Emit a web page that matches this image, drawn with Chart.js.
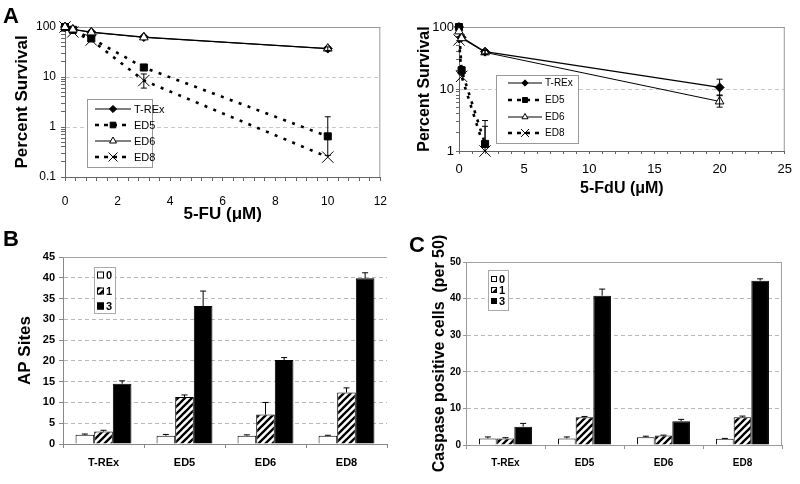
<!DOCTYPE html>
<html><head><meta charset="utf-8">
<script src="https://cdn.jsdelivr.net/npm/chart.js@4.4.1/dist/chart.umd.min.js"></script>
<style>
html,body{margin:0;padding:0;background:#fff;width:800px;height:484px;overflow:hidden;}
.box{position:absolute;}
.lbl{position:absolute;font:bold 22px 'Liberation Sans',Arial,sans-serif;color:#000;line-height:1;}
</style></head><body>
<div class="box" style="left:0;top:0"><canvas id="cA1" width="400" height="235"></canvas></div>
<div class="box" style="left:400px;top:0"><canvas id="cA2" width="400" height="205"></canvas></div>
<div class="box" style="left:0;top:240px"><canvas id="cB" width="400" height="244"></canvas></div>
<div class="box" style="left:400px;top:232px"><canvas id="cC" width="400" height="252"></canvas></div>
<div class="lbl" style="left:3px;top:5px">A</div>
<div class="lbl" style="left:3px;top:228px">B</div>
<div class="lbl" style="left:409px;top:234px">C</div>
<script>
// ---------- Panel A (left): 5-FU survival ----------
const fuDoses   = [0, 0.3, 1, 3, 10];
const fuTREx    = [100, 90, 79, 63, 37];
const fuED5     = [100, 88, 59, 15.5, 0.65];
const fuED6     = [100, 89, 78, 62, 37];
const fuED8     = [100, 80, 55, 8.5, 0.25];
const fuED5ErrHi = [null, null, null, 17.5, 1.6];
const fuED5ErrLo = [null, null, null, 13.8, 0.27];
const fuED6ErrHi = [null, null, null, null, 40];
const fuED6ErrLo = [null, null, null, null, 34];
const fuED8ErrHi = [null, null, null, 11.5, null];
const fuED8ErrLo = [null, null, null, 6.0, null];
const fuAxisLabels = [0, 2, 4, 6, 8, 10, 12];
const survMajors1  = [0.1, 1, 10, 100];

// ---------- Panel A (right): 5-FdU survival ----------
const fduDoses  = [0, 0.2, 2, 20];
const fduTREx   = [100, 68, 40, 10.6];
const fduED6    = [85, 66, 39, 6.3];
const fduDosesShort = [0, 0.2, 2];
const fduED5    = [100, 20, 1.3];
const fduED8    = [62, 16, 1.0];
const fduTRExErrHi = [null, null, 43, 14.4];
const fduTRExErrLo = [null, null, 37, 7.8];
const fduED6ErrHi  = [null, null, 42, 8.0];
const fduED6ErrLo  = [null, null, 36, 5.1];
const fduED5ErrHi  = [null, 23, 3.1];
const fduED5ErrLo  = [null, 17, null];
const fduED8ErrHi  = [null, 18, 2.5];
const fduED8ErrLo  = [null, null, null];
const fduAxisLabels = [0, 5, 10, 15, 20, 25];
const survMajors2   = [1, 10, 100];

// ---------- Panels B and C ----------
const cellLines = ['T-REx', 'ED5', 'ED6', 'ED8'];
const seriesNames = ['0', '1', '3'];
const apSites0 = [2.2, 2.0, 2.0, 2.0];
const apSites1 = [3.0, 11.3, 7.1, 12.4];
const apSites3 = [14.5, 33.2, 20.2, 39.9];
const apErr0 = [2.4, 2.3, 2.2, 2.1];
const apErr1 = [3.3, 11.8, 10.0, 13.5];
const apErr3 = [15.2, 36.8, 20.8, 41.2];
const casp0 = [1.8, 1.8, 2.1, 1.7];
const casp1 = [1.8, 7.6, 2.6, 7.6];
const casp3 = [5.0, 40.8, 6.5, 44.9];
const caspErr0 = [2.2, 2.2, 2.4, 1.8];
const caspErr1 = [2.0, 7.8, 2.7, 7.9];
const caspErr3 = [5.9, 42.6, 7.0, 45.4];

const F  = "'Liberation Sans', Arial, Helvetica, sans-serif";
const FN = "'Liberation Sans Narrow', 'Arial Narrow', 'Liberation Sans', Arial, sans-serif";
Chart.defaults.font.family = F;
Chart.defaults.color = '#000';
Chart.defaults.animation = false;
Chart.defaults.events = [];
Chart.defaults.plugins.legend.display = false;
Chart.defaults.plugins.tooltip.enabled = false;

// axis tick helpers (decoration only)
function linTicks(max, step){ const t=[]; const n=Math.round(max/step); for(let k=0;k<=n;k++) t.push(Math.round(k*step*1000)/1000); return t; }
function logTicks(majors){ const t=[]; for(let i=0;i<majors.length-1;i++){ for(let m=1;m<=9;m++) t.push(Math.round(majors[i]*m*1000)/1000); } t.push(majors[majors.length-1]); return t; }

function hatchPattern(){
  const s=7, c=document.createElement('canvas'); c.width=s; c.height=s;
  const g=c.getContext('2d'); g.fillStyle='#fff'; g.fillRect(0,0,s,s);
  g.strokeStyle='#000'; g.lineWidth=2.3; g.lineCap='square'; g.beginPath();
  g.moveTo(0,s); g.lineTo(s,0);
  g.moveTo(-1,1); g.lineTo(1,-1);
  g.moveTo(s-1,s+1); g.lineTo(s+1,s-1);
  g.stroke();
  return g.createPattern(c,'repeat');
}
const HATCH = hatchPattern();

const framePlugin = {
  id:'frame',
  beforeDatasetsDraw(chart, args, o){
    if(!o || !o.color) return;
    const {ctx, chartArea:a} = chart;
    ctx.save(); ctx.strokeStyle=o.color; ctx.lineWidth=1; ctx.beginPath();
    if(o.top){ ctx.moveTo(a.left, a.top+0.5); ctx.lineTo(a.right, a.top+0.5); }
    if(o.right){ ctx.moveTo(a.right-0.5, a.top); ctx.lineTo(a.right-0.5, a.bottom); }
    ctx.stroke(); ctx.restore();
  }
};

const errorBarPlugin = {
  id:'errorBars',
  afterDatasetsDraw(chart){
    const ctx=chart.ctx, ys=chart.scales.y;
    chart.data.datasets.forEach((ds,di)=>{
      if(!ds.errHi) return;
      const meta=chart.getDatasetMeta(di);
      meta.data.forEach((el,i)=>{
        const hi=ds.errHi[i], lo=ds.errLo?ds.errLo[i]:null;
        if(hi==null && lo==null) return;
        const x=el.x, cw=ds.capHalf||3;
        const yTop = hi!=null ? ys.getPixelForValue(hi) : el.y;
        const yBot = lo!=null ? ys.getPixelForValue(lo) : el.y;
        ctx.save(); ctx.strokeStyle='#000'; ctx.lineWidth=1; ctx.setLineDash([]);
        ctx.beginPath(); ctx.moveTo(x,yTop); ctx.lineTo(x,yBot);
        if(hi!=null){ ctx.moveTo(x-cw,yTop); ctx.lineTo(x+cw,yTop); }
        if(lo!=null){ ctx.moveTo(x-cw,yBot); ctx.lineTo(x+cw,yBot); }
        ctx.stroke(); ctx.restore();
      });
    });
  }
};

const boxLegendPlugin = {
  id:'boxLegend',
  afterDraw(chart, args, o){
    if(!o || !o.box) return;
    const ctx=chart.ctx, b=o.box;
    ctx.save();
    ctx.fillStyle='#fff'; ctx.fillRect(b.x,b.y,b.w,b.h);
    ctx.strokeStyle=o.borderColor||'#999'; ctx.lineWidth=1; ctx.strokeRect(b.x+0.5,b.y+0.5,b.w,b.h);
    ctx.font=o.font; ctx.textBaseline='middle'; ctx.textAlign='left';
    chart.data.datasets.forEach((ds,i)=>{
      const y=o.rows[i];
      if(o.kind==='line'){
        ctx.strokeStyle='#000'; ctx.lineWidth=ds.legendLineWidth||ds.borderWidth; ctx.setLineDash(ds.legendDash||ds.borderDash||[]);
        ctx.beginPath(); ctx.moveTo(o.sx1,y); ctx.lineTo(o.sx2,y); ctx.stroke(); ctx.setLineDash([]);
        ctx.fillStyle=ds.pointBackgroundColor; ctx.strokeStyle='#000'; ctx.lineWidth=ds.pointBorderWidth;
        Chart.helpers.drawPoint(ctx,{pointStyle:ds.pointStyle,radius:(ds.pointRadius*(o.markerScale||1)),borderWidth:ds.pointBorderWidth,rotation:0},(o.sx1+o.sx2)/2,y);
      } else {
        ctx.fillStyle=ds.backgroundColor; ctx.strokeStyle='#000'; ctx.lineWidth=1;
        ctx.fillRect(o.sx,y-o.sw/2,o.sw,o.sw); ctx.strokeRect(o.sx+0.5,y-o.sw/2+0.5,o.sw-1,o.sw-1);
      }
      ctx.fillStyle='#000'; ctx.fillText(ds.label,o.tx,y+0.5);
    });
    ctx.restore();
  }
};
Chart.register(framePlugin, errorBarPlugin, boxLegendPlugin);

function pts(xs, ys){ return xs.map((x,i)=>({x:x, y:ys[i]})); }
function lineDs(label, xs, ys, style){
  return Object.assign({label, data:pts(xs,ys), borderColor:'#000', pointBorderColor:'#000', pointBorderWidth:1,
    tension:0, clip:false, fill:false}, style);
}
const STY = {
  trex:{pointStyle:'rectRot', pointRadius:4.5, pointBackgroundColor:'#000', borderWidth:1.2, order:4},
  ed5:{pointStyle:'rect', pointRadius:5, pointBackgroundColor:'#000', borderWidth:2.6, borderDash:[3,6.5], legendDash:[4,5], order:3},
  ed6:{pointStyle:'triangle', pointRadius:5, pointBackgroundColor:'#fff', borderWidth:1, order:1},
  ed8:{pointStyle:'crossRot', pointRadius:8, pointBackgroundColor:'#000', borderWidth:2.6, borderDash:[3,6.5], legendDash:[4,5], order:2}
};

// ----- A left -----
const fuXTicks = linTicks(12, 0.4);
const fuYTicks = logTicks(survMajors1);
new Chart(document.getElementById('cA1'), {
  type:'line',
  data:{datasets:[
    lineDs('T-REx', fuDoses, fuTREx, STY.trex),
    lineDs('ED5', fuDoses, fuED5, Object.assign({errHi:fuED5ErrHi, errLo:fuED5ErrLo}, STY.ed5)),
    lineDs('ED6', fuDoses, fuED6, Object.assign({errHi:fuED6ErrHi, errLo:fuED6ErrLo}, STY.ed6)),
    lineDs('ED8', fuDoses, fuED8, Object.assign({errHi:fuED8ErrHi, errLo:fuED8ErrLo}, STY.ed8))
  ]},
  options:{
    responsive:false,
    layout:{padding:{top:27,right:11,left:0,bottom:0}},
    scales:{
      x:{type:'linear', min:0, max:12,
        afterBuildTicks:s=>{ s.ticks=fuXTicks.map(v=>({value:v})); },
        afterFit:s=>{ s.height=58; },
        ticks:{callback:v=>fuAxisLabels.includes(v)?String(v):'', font:{size:12}, padding:13, maxRotation:0, autoSkip:false},
        grid:{drawOnChartArea:false, tickLength:4, tickColor:'#666'},
        border:{color:'#666'},
        title:{display:true, text:'5-FU (\u03bcM)', font:{size:17, weight:'bold'}, padding:{top:0,bottom:10}}
      },
      y:{type:'logarithmic', min:0.1, max:100,
        afterBuildTicks:s=>{ s.ticks=fuYTicks.map(v=>({value:v})); },
        afterFit:s=>{ s.width=65; },
        ticks:{callback:v=>survMajors1.includes(v)?String(v):'', font:{size:12}, padding:5, autoSkip:false},
        grid:{color:c=>(c.tick&&(c.tick.value===1||c.tick.value===10))?'#c8c8c8':'rgba(0,0,0,0)', tickColor:'#666', tickLength:4},
        border:{color:'#666', dash:[4,3]},
        title:{display:true, text:'Percent Survival', font:{size:17, weight:'bold'}, padding:{top:12,bottom:0}}
      }
    },
    plugins:{
      frame:{top:true, right:true, color:'#9a9a9a'},
      boxLegend:{kind:'line', box:{x:87,y:99,w:65,h:68}, rows:[109,125,141,157], sx1:95, sx2:131, tx:134,
        font:"11px "+FN, markerScale:0.8}
    }
  }
});

// ----- A right -----
const fduXTicks = linTicks(25, 1);
const fduYTicks = logTicks(survMajors2);
new Chart(document.getElementById('cA2'), {
  type:'line',
  data:{datasets:[
    lineDs('T-REx', fduDoses, fduTREx, Object.assign({errHi:fduTRExErrHi, errLo:fduTRExErrLo}, STY.trex, {order:2})),
    lineDs('ED5', fduDosesShort, fduED5, Object.assign({errHi:fduED5ErrHi, errLo:fduED5ErrLo}, STY.ed5)),
    lineDs('ED6', fduDoses, fduED6, Object.assign({errHi:fduED6ErrHi, errLo:fduED6ErrLo}, STY.ed6)),
    lineDs('ED8', fduDosesShort, fduED8, Object.assign({errHi:fduED8ErrHi, errLo:fduED8ErrLo}, STY.ed8))
  ]},
  options:{
    responsive:false,
    layout:{padding:{top:27,right:11,left:0,bottom:0}},
    scales:{
      x:{type:'linear', min:0, max:25,
        afterBuildTicks:s=>{ s.ticks=fduXTicks.map(v=>({value:v})); },
        afterFit:s=>{ s.height=54; },
        ticks:{callback:v=>fduAxisLabels.includes(v)?String(v):'', font:{size:13}, padding:8, maxRotation:0, autoSkip:false},
        grid:{drawOnChartArea:false, tickLength:3, tickColor:'#666'},
        border:{color:'#666'},
        title:{display:true, text:'5-FdU (\u03bcM)', font:{size:16, weight:'bold'}, padding:{top:0,bottom:7}}
      },
      y:{type:'logarithmic', min:1, max:100,
        afterBuildTicks:s=>{ s.ticks=fduYTicks.map(v=>({value:v})); },
        afterFit:s=>{ s.width=59; },
        ticks:{callback:v=>survMajors2.includes(v)?String(v):'', font:{size:13}, padding:2, autoSkip:false},
        grid:{color:c=>(c.tick&&c.tick.value===10)?'#c8c8c8':'rgba(0,0,0,0)', tickColor:'#666', tickLength:3},
        border:{color:'#666', dash:[4,3]},
        title:{display:true, text:'Percent Survival', font:{size:16, weight:'bold'}, padding:{top:15,bottom:0}}
      }
    },
    plugins:{
      frame:{top:true, right:true, color:'#9a9a9a'},
      boxLegend:{kind:'line', box:{x:96,y:75,w:82,h:68}, rows:[83,100,117,133], sx1:108, sx2:142, tx:145,
        font:"10px "+FN, markerScale:0.7}
    }
  }
});

// ----- B -----
function barDs(label, data, err, bg){
  return {label, data, errHi:err, backgroundColor:bg, borderColor:'#000', borderWidth:1,
    categoryPercentage:0.69, barPercentage:1.0, capHalf:3};
}
new Chart(document.getElementById('cB'), {
  type:'bar',
  data:{labels:cellLines, datasets:[
    barDs(seriesNames[0], apSites0, apErr0, '#fff'),
    barDs(seriesNames[1], apSites1, apErr1, HATCH),
    barDs(seriesNames[2], apSites3, apErr3, '#000')
  ]},
  options:{
    responsive:false,
    layout:{padding:{top:17,right:13,left:0,bottom:0}},
    scales:{
      x:{afterFit:s=>{ s.height=40; },
        ticks:{font:{size:11, weight:'bold'}, padding:8},
        grid:{drawOnChartArea:false, tickLength:4, tickColor:'#888', offset:true},
        border:{color:'#888'}
      },
      y:{min:0, max:45, afterFit:s=>{ s.width=63; },
        ticks:{stepSize:5, font:{size:11, weight:'bold'}, padding:4},
        grid:{color:c=>(c.tick&&c.tick.value===0)?'rgba(0,0,0,0)':'#b8b8b8', tickColor:'#888', tickLength:4},
        border:{color:'#888', dash:[4,3]},
        title:{display:true, text:'AP Sites', font:{size:17, weight:'bold'}, padding:{top:15,bottom:0}}
      }
    },
    plugins:{
      frame:{top:true, right:false, color:'#a0a0a0'},
      boxLegend:{kind:'bar', box:{x:94,y:27,w:21,h:46}, rows:[35,51,66], sx:97, sw:7, tx:106, font:"bold 11px "+F, borderColor:'#aaa'}
    }
  }
});

// ----- C -----
new Chart(document.getElementById('cC'), {
  type:'bar',
  data:{labels:cellLines, datasets:[
    Object.assign(barDs(seriesNames[0], casp0, caspErr0, '#fff'), {categoryPercentage:0.67}),
    Object.assign(barDs(seriesNames[1], casp1, caspErr1, HATCH), {categoryPercentage:0.67}),
    Object.assign(barDs(seriesNames[2], casp3, caspErr3, '#000'), {categoryPercentage:0.67})
  ]},
  options:{
    responsive:false,
    layout:{padding:{top:30,right:18,left:0,bottom:0}},
    scales:{
      x:{afterFit:s=>{ s.height=39; },
        ticks:{font:{size:10, weight:'bold', family:FN}, padding:8},
        grid:{drawOnChartArea:false, tickLength:4, tickColor:'#999', offset:true},
        border:{color:'#999'}
      },
      y:{min:0, max:50, afterFit:s=>{ s.width=66; },
        ticks:{stepSize:10, font:{size:10, weight:'bold', family:FN}, padding:2},
        grid:{color:c=>(c.tick&&c.tick.value===0)?'rgba(0,0,0,0)':'#b8b8b8', tickColor:'#999', tickLength:3},
        border:{color:'#999', dash:[4,3]},
        title:{display:true, text:'Caspase positive cells  (per 50)', font:{size:16, weight:'bold'}, padding:{top:30,bottom:0}}
      }
    },
    plugins:{
      frame:{top:true, right:true, color:'#a0a0a0'},
      boxLegend:{kind:'bar', box:{x:88,y:38,w:20,h:40}, rows:[47,58,69], sx:91, sw:6, tx:99, font:"bold 11px "+FN, borderColor:'#aaa'}
    }
  }
});
</script>
</body></html>
